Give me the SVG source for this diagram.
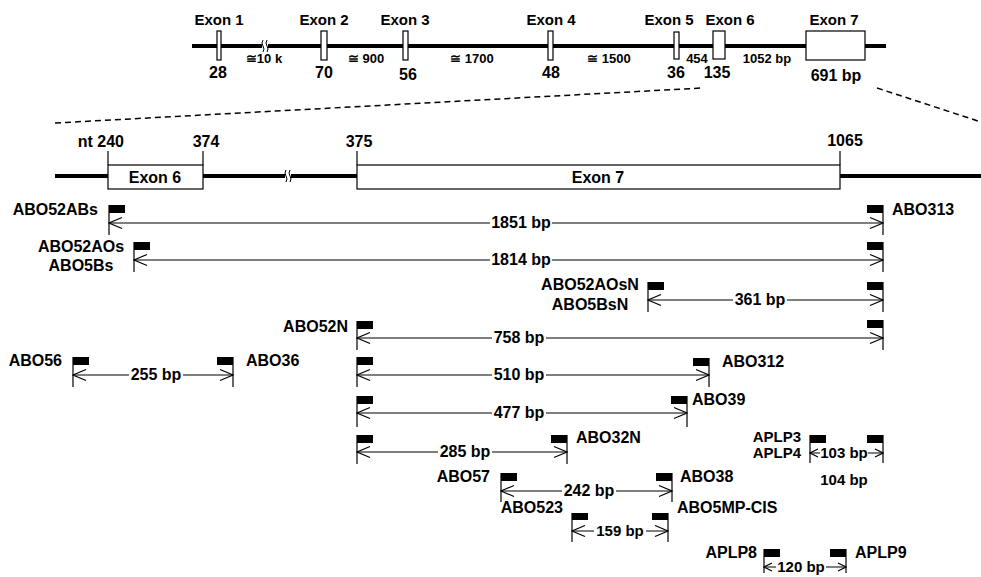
<svg xmlns="http://www.w3.org/2000/svg" width="981" height="577" viewBox="0 0 981 577">
<style>
text{font-family:"Liberation Sans",Arial,sans-serif;font-weight:bold;fill:#000}
.t14{font-size:14px}
.t15{font-size:15px}
.t16{font-size:16px}
.t13{font-size:13px}
.m{text-anchor:middle}
.e{text-anchor:end}
.wb{fill:#fff}
.gene{stroke:#000;stroke-width:4;fill:none}
.box{fill:#fff;stroke:#000;stroke-width:1.2}
.tick{stroke:#000;stroke-width:1.2}
.dash{stroke:#000;stroke-width:1.5;stroke-dasharray:6 4;fill:none}
.flag{fill:#000}
.arr{stroke:#000;stroke-width:1.2;fill:none;marker-start:url(#ah);marker-end:url(#ah)}
.arrs{stroke:#000;stroke-width:1.2;fill:none;marker-start:url(#ahs);marker-end:url(#ahs)}
.brk{stroke:#000;stroke-width:1;fill:none}
</style>
<defs>
<marker id="ah" viewBox="-14 -7 15 14" markerWidth="15" markerHeight="14" refX="0" refY="0" orient="auto-start-reverse" markerUnits="userSpaceOnUse">
<path d="M-13,-5.5 L0,0 L-13,5.5" fill="none" stroke="#000" stroke-width="1.2"/>
</marker>
<marker id="ahs" viewBox="-10 -6 11 12" markerWidth="11" markerHeight="12" refX="0" refY="0" orient="auto-start-reverse" markerUnits="userSpaceOnUse">
<path d="M-8,-4 L0,0 L-8,4" fill="none" stroke="#000" stroke-width="1.2"/>
</marker>
</defs>

<!-- top gene structure -->
<g id="gene-top">
<line class="gene" x1="192" y1="46" x2="886" y2="46"/>
<rect x="262" y="41" width="6" height="10" fill="#fff"/>
<path class="brk" d="M263,40 q-2,3 0,6 q2,3 0,6"/>
<path class="brk" d="M267,40 q-2,3 0,6 q2,3 0,6"/>
<text class="t13" x="264" y="63" text-anchor="middle">≅10 k</text>
<text class="t13" x="366" y="63" text-anchor="middle">≅ 900</text>
<text class="t13" x="472" y="63" text-anchor="middle">≅ 1700</text>
<text class="t13" x="609" y="63" text-anchor="middle">≅ 1500</text>
<text class="t13" x="697" y="63" text-anchor="middle">454</text>
<text class="t13" x="767" y="63" text-anchor="middle">1052 bp</text>
</g>
<g id="exon1"><rect class="box" x="217" y="31" width="4" height="29"/><text class="t15 m" x="219" y="25">Exon 1</text><text class="t16 m" x="218" y="78">28</text></g>
<g id="exon2"><rect class="box" x="321" y="31" width="6" height="29"/><text class="t15 m" x="324" y="25">Exon 2</text><text class="t16 m" x="324" y="78">70</text></g>
<g id="exon3"><rect class="box" x="403" y="31" width="5" height="29"/><text class="t15 m" x="405" y="25">Exon 3</text><text class="t16 m" x="408" y="80">56</text></g>
<g id="exon4"><rect class="box" x="548" y="31" width="5" height="29"/><text class="t15 m" x="551" y="25">Exon 4</text><text class="t16 m" x="551" y="78">48</text></g>
<g id="exon5"><rect class="box" x="674" y="32" width="5" height="27"/><text class="t15 m" x="669" y="25">Exon 5</text><text class="t16 m" x="676" y="78">36</text></g>
<g id="exon6"><rect class="box" x="713" y="31" width="12" height="28"/><text class="t15 m" x="730" y="25">Exon 6</text><text class="t16 m" x="717" y="78">135</text></g>
<g id="exon7"><rect class="box" x="806" y="31" width="59" height="29"/><text class="t15 m" x="834" y="25">Exon 7</text><text class="t16 m" x="836" y="81">691 bp</text></g>

<!-- zoom lines -->
<g id="zoom-lines">
<line class="dash" x1="55" y1="123" x2="702" y2="88"/>
<line class="dash" x1="877" y1="88" x2="981" y2="122"/>
</g>

<!-- detail gene structure -->
<g id="gene-detail">
<line class="gene" x1="55" y1="176" x2="981" y2="176"/>
<rect x="285" y="171" width="6" height="10" fill="#fff"/>
<path class="brk" d="M286,170 q-2,3 0,6 q2,3 0,6"/>
<path class="brk" d="M290,170 q-2,3 0,6 q2,3 0,6"/>
<line class="tick" x1="108" y1="151" x2="108" y2="165"/>
<line class="tick" x1="203" y1="151" x2="203" y2="165"/>
<line class="tick" x1="357" y1="151" x2="357" y2="165"/>
<line class="tick" x1="840" y1="151" x2="840" y2="165"/>
<text class="t16" x="124" y="147" text-anchor="end">nt 240</text>
<text class="t16 m" x="206" y="147">374</text>
<text class="t16 m" x="359" y="147">375</text>
<text class="t16 m" x="845" y="146">1065</text>
</g>
<g id="exon6-detail"><rect class="box" x="108" y="165" width="95" height="24"/><text class="t16 m" x="155" y="183">Exon 6</text></g>
<g id="exon7-detail"><rect class="box" x="357" y="165" width="483" height="24"/><text class="t16 m" x="598" y="183">Exon 7</text></g>

<!-- primers -->
<g id="p-ABO52ABs"><rect class="flag" x="109" y="205" width="16" height="8"/><line class="tick" x1="109" y1="205" x2="109" y2="235"/><text class="t16 e" x="98" y="215">ABO52ABs</text></g>
<g id="p-ABO313-1"><rect class="flag" x="867" y="205" width="16" height="8"/><line class="tick" x1="883" y1="205" x2="883" y2="235"/><text class="t16" x="892" y="215">ABO313</text></g>

<g id="p-ABO52AOs"><rect class="flag" x="134" y="242" width="16" height="8"/><line class="tick" x1="134" y1="242" x2="134" y2="272"/><text class="t16 m" x="81" y="252">ABO52AOs</text><text class="t16 m" x="81" y="271">ABO5Bs</text></g>
<g id="p-ABO313-2"><rect class="flag" x="867" y="242" width="16" height="8"/><line class="tick" x1="883" y1="242" x2="883" y2="272"/></g>

<g id="p-ABO52AOsN"><rect class="flag" x="648" y="282" width="16" height="8"/><line class="tick" x1="648" y1="282" x2="648" y2="312"/><text class="t16 m" x="590" y="290">ABO52AOsN</text><text class="t16 m" x="590" y="310">ABO5BsN</text></g>
<g id="p-ABO313-3"><rect class="flag" x="867" y="282" width="16" height="8"/><line class="tick" x1="883" y1="282" x2="883" y2="312"/></g>

<g id="p-ABO52N"><rect class="flag" x="357" y="321" width="16" height="8"/><line class="tick" x1="357" y1="321" x2="357" y2="350"/><text class="t16 e" x="348" y="332">ABO52N</text></g>
<g id="p-ABO313-4"><rect class="flag" x="867" y="320" width="16" height="8"/><line class="tick" x1="883" y1="320" x2="883" y2="350"/></g>

<g id="p-ABO56"><rect class="flag" x="73" y="357" width="16" height="8"/><line class="tick" x1="73" y1="357" x2="73" y2="387"/><text class="t16 e" x="62" y="366">ABO56</text></g>
<g id="p-ABO36"><rect class="flag" x="217" y="357" width="16" height="8"/><line class="tick" x1="233" y1="357" x2="233" y2="387"/><text class="t16" x="246" y="366">ABO36</text></g>

<g id="p-ABO52N-2"><rect class="flag" x="357" y="357" width="16" height="8"/><line class="tick" x1="357" y1="357" x2="357" y2="387"/></g>
<g id="p-ABO312"><rect class="flag" x="693" y="358" width="16" height="8"/><line class="tick" x1="709" y1="358" x2="709" y2="387"/><text class="t16" x="722" y="367">ABO312</text></g>

<g id="p-ABO52N-3"><rect class="flag" x="357" y="396" width="16" height="8"/><line class="tick" x1="357" y1="396" x2="357" y2="427"/></g>
<g id="p-ABO39"><rect class="flag" x="671" y="396" width="16" height="8"/><line class="tick" x1="687" y1="396" x2="687" y2="427"/><text class="t16" x="692" y="405">ABO39</text></g>

<g id="p-ABO52N-4"><rect class="flag" x="357" y="435" width="16" height="8"/><line class="tick" x1="357" y1="435" x2="357" y2="464"/></g>
<g id="p-ABO32N"><rect class="flag" x="551" y="435" width="16" height="8"/><line class="tick" x1="567" y1="435" x2="567" y2="464"/><text class="t16" x="576" y="443">ABO32N</text></g>

<g id="p-APLP3"><rect class="flag" x="810" y="435" width="16" height="8"/><line class="tick" x1="810" y1="435" x2="810" y2="463"/><text class="t15 e" x="801" y="442">APLP3</text><text class="t15 e" x="801" y="458">APLP4</text></g>
<g id="p-APLP-R"><rect class="flag" x="867" y="435" width="16" height="8"/><line class="tick" x1="883" y1="435" x2="883" y2="463"/></g>

<g id="p-ABO57"><rect class="flag" x="501" y="473" width="16" height="8"/><line class="tick" x1="501" y1="473" x2="501" y2="502"/><text class="t16 e" x="490" y="482">ABO57</text></g>
<g id="p-ABO38"><rect class="flag" x="656" y="473" width="16" height="8"/><line class="tick" x1="672" y1="473" x2="672" y2="502"/><text class="t16" x="680" y="482">ABO38</text></g>

<g id="p-ABO523"><rect class="flag" x="572" y="513" width="16" height="7"/><line class="tick" x1="572" y1="513" x2="572" y2="542"/><text class="t16 e" x="563" y="513">ABO523</text></g>
<g id="p-ABO5MP-CIS"><rect class="flag" x="652" y="513" width="16" height="7"/><line class="tick" x1="668" y1="513" x2="668" y2="542"/><text class="t16" x="677" y="513">ABO5MP-CIS</text></g>

<g id="p-APLP8"><rect class="flag" x="764" y="549" width="16" height="8"/><line class="tick" x1="764" y1="549" x2="764" y2="573"/><text class="t16 e" x="757" y="558">APLP8</text></g>
<g id="p-APLP9"><rect class="flag" x="830" y="549" width="16" height="8"/><line class="tick" x1="846" y1="549" x2="846" y2="573"/><text class="t16" x="855" y="558">APLP9</text></g>

<!-- connectors -->
<g id="connectors">
<line class="arr" x1="109" y1="223" x2="883" y2="223"/>
<line class="arr" x1="134" y1="260" x2="883" y2="260"/>
<line class="arr" x1="648" y1="300" x2="883" y2="300"/>
<line class="arr" x1="357" y1="338" x2="883" y2="338"/>
<line class="arr" x1="73" y1="375" x2="233" y2="375"/>
<line class="arr" x1="357" y1="375" x2="709" y2="375"/>
<line class="arr" x1="357" y1="413" x2="687" y2="413"/>
<line class="arr" x1="357" y1="452" x2="567" y2="452"/>
<line class="arrs" x1="810" y1="453" x2="883" y2="453"/>
<line class="arr" x1="501" y1="491" x2="672" y2="491"/>
<line class="arr" x1="572" y1="531" x2="668" y2="531"/>
<line class="arrs" x1="764" y1="567" x2="846" y2="567"/>
<rect class="wb" x="490" y="217" width="62" height="12"/>
<rect class="wb" x="490" y="254" width="62" height="12"/>
<rect class="wb" x="733" y="294" width="54" height="12"/>
<rect class="wb" x="492" y="332" width="54" height="12"/>
<rect class="wb" x="129" y="369" width="54" height="12"/>
<rect class="wb" x="492" y="369" width="54" height="12"/>
<rect class="wb" x="492" y="407" width="54" height="12"/>
<rect class="wb" x="438" y="446" width="54" height="12"/>
<rect class="wb" x="820" y="447" width="48" height="12"/>
<rect class="wb" x="562" y="485" width="54" height="12"/>
<rect class="wb" x="594" y="525" width="52" height="12"/>
<rect class="wb" x="776" y="561" width="50" height="12"/>
<text class="t16 m" x="521" y="228">1851 bp</text>
<text class="t16 m" x="521" y="265">1814 bp</text>
<text class="t16 m" x="760" y="305">361 bp</text>
<text class="t16 m" x="519" y="343">758 bp</text>
<text class="t16 m" x="156" y="380">255 bp</text>
<text class="t16 m" x="519" y="380">510 bp</text>
<text class="t16 m" x="519" y="418">477 bp</text>
<text class="t16 m" x="465" y="457">285 bp</text>
<text class="t15 m" x="844" y="458">103 bp</text>
<text class="t15 m" x="844" y="485">104 bp</text>
<text class="t16 m" x="589" y="496">242 bp</text>
<text class="t15 m" x="620" y="536">159 bp</text>
<text class="t15 m" x="801" y="572">120 bp</text>
</g>
</svg>
